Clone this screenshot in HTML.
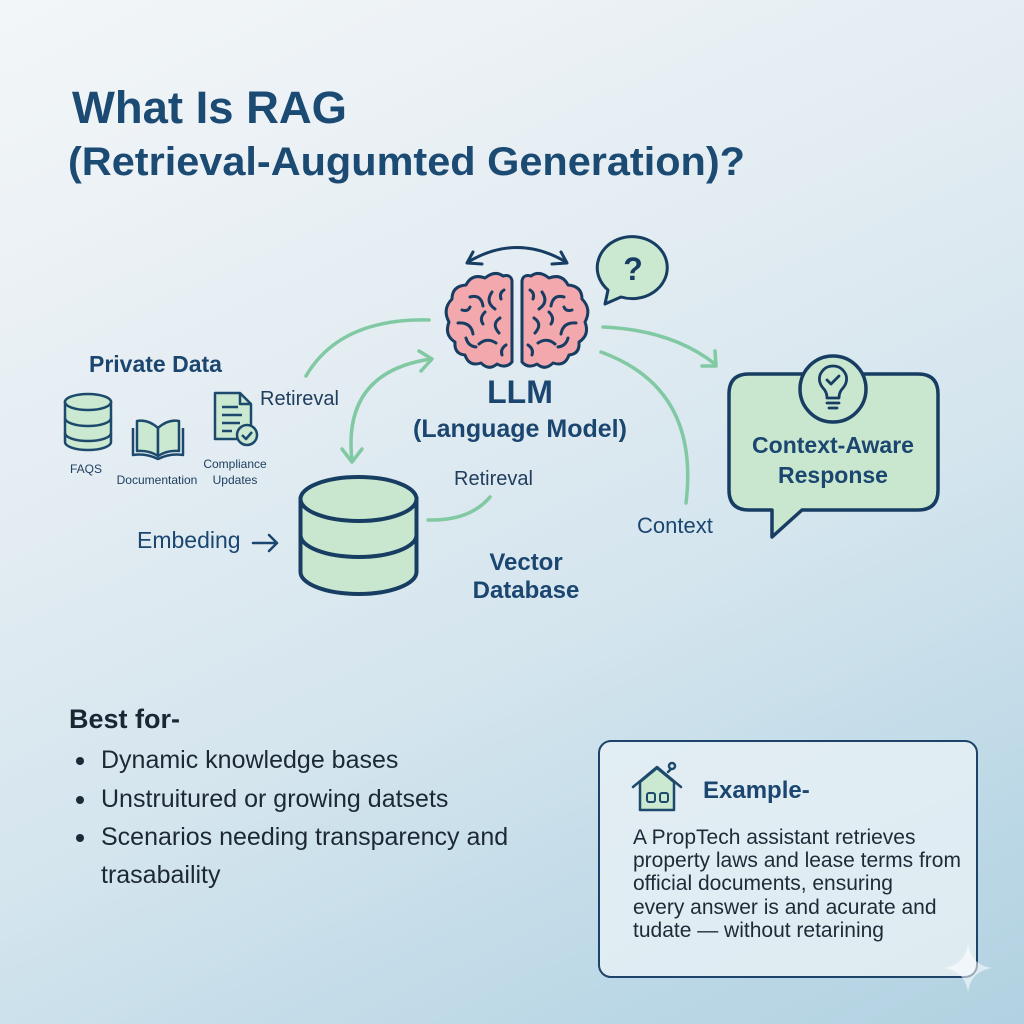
<!DOCTYPE html>
<html><head><meta charset="utf-8"><style>
html,body{margin:0;padding:0;}
body{width:1024px;height:1024px;overflow:hidden;background:linear-gradient(155deg,#f3f6f8 0%,#e6eef3 30%,#d4e5ee 60%,#bcd8e6 85%,#b2d2e1 100%);}
svg{position:absolute;left:0;top:0;}
text{font-family:"Liberation Sans",Arial,sans-serif;}
</style></head><body>
<svg width="1024" height="1024" viewBox="0 0 1024 1024" xmlns="http://www.w3.org/2000/svg">
<!-- Title -->
<text x="72" y="123" font-size="45" font-weight="bold" fill="#1b4a72" textLength="275" lengthAdjust="spacingAndGlyphs">What Is RAG</text>
<text x="68" y="175" font-size="40" font-weight="bold" fill="#1b4a72" textLength="677" lengthAdjust="spacingAndGlyphs">(Retrieval-Augumted Generation)?</text>

<!-- Private data -->
<text x="89" y="372" font-size="23" font-weight="bold" fill="#1b4670">Private Data</text>
<!-- DB stack icon -->
<g stroke="#1d4a6c" stroke-width="2.5" fill="#cbe8d1">
<path d="M65,402 V442 A23,8 0 0 0 111,442 V402 Z"/>
<ellipse cx="88" cy="402" rx="23" ry="8"/>
<path d="M65,418 A23,8 0 0 0 111,418" fill="none"/>
<path d="M65,433 A23,8 0 0 0 111,433" fill="none"/>
</g>
<!-- Book icon -->
<g stroke="#1d4a6c" stroke-width="2.5" fill="#cbe8d1" stroke-linejoin="round">
<path d="M133,428 V455 Q146,453 158,459 Q170,453 183,455 V428" fill="none"/>
<path d="M158,428 Q148,419 137,421 V451 Q149,450 158,456 Z"/>
<path d="M158,428 Q168,419 179,421 V451 Q167,450 158,456 Z"/>
</g>
<!-- Doc icon -->
<g stroke="#1d4a6c" stroke-width="2.5" stroke-linejoin="round">
<path d="M215,393 H240 L251,404 V439 H215 Z" fill="#cbe8d1"/>
<path d="M240,393 V404 H251" fill="none"/>
<path d="M222,407 H238 M222,415 H242 M222,423 H240 M222,431 H232" fill="none"/>
<circle cx="247" cy="435" r="10" fill="#cbe8d1"/>
<path d="M242,435 l4,4 l6,-7" fill="none"/>
</g>
<g font-size="12" fill="#1f3f60">
<text x="86" y="473" text-anchor="middle">FAQS</text>
<text x="157" y="484" text-anchor="middle">Documentation</text>
<text x="235" y="468" text-anchor="middle">Compliance</text>
<text x="235" y="484" text-anchor="middle">Updates</text>
</g>
<text x="260" y="405" font-size="20" fill="#1f3d5c">Retireval</text>

<!-- Mint arrows -->
<g stroke="#80c9a3" stroke-width="3.5" fill="none" stroke-linecap="round" stroke-linejoin="round">
<path d="M306,376 Q340,318 429,320"/>
<path d="M352,461 Q342,372 431,359"/>
<path d="M342,449 L352,462 L362,449"/>
<path d="M419,351 L432,359 L421,371"/>
<path d="M603,327 Q672,330 715,364"/>
<path d="M715,351 L716,366 L702,366"/>
<path d="M601,352 Q700,388 686,503"/>
<path d="M428,520 Q470,521 490,497"/>
</g>

<!-- Double arrow over brain -->
<g stroke="#173d62" stroke-width="3" fill="none" stroke-linecap="round" stroke-linejoin="round">
<path d="M468,262 Q517,233 566,262"/>
<path d="M473,252 L467,263 L482,264"/>
<path d="M561,252 L567,263 L552,264"/>
</g>

<!-- Brain -->
<g stroke="#173d62" stroke-width="3" stroke-linejoin="round" stroke-linecap="round">
<g id="lh">
<path fill="#f3a8ae" d="M512,281 L512,362 Q506,369 497,364 Q489,371 481,363 Q469,367 465,355 Q454,354 455,342 Q444,335 449,322 Q442,309 452,299 Q452,286 466,285 Q472,273 485,278 Q495,270 503,276 Q511,274 512,281 Z"/>
<path fill="none" d="M470,297 q11,-3 13,9 M458,323 q13,-1 15,11 M492,292 q-7,10 3,17 M479,344 q8,-7 17,-1 M500,318 q-9,6 -1,15 M466,338 q2,8 10,9 M485,312 q-6,6 -2,12 M506,345 q-6,4 -4,10 M504,290 q-5,3 -3,9 M462,310 q6,2 8,-3"/>
</g>
<use href="#lh" transform="translate(1034,0) scale(-1,1)"/>
</g>

<!-- Question bubble -->
<path d="M608,290 A35,31 0 1 1 621,297 L605,304 Z" fill="#cbe8d1" stroke="#173d62" stroke-width="3" stroke-linejoin="round"/>
<text x="633" y="280" font-size="32" font-weight="bold" fill="#173d62" text-anchor="middle">?</text>

<!-- LLM label -->
<text x="520" y="403" font-size="32" font-weight="bold" fill="#1b4670" text-anchor="middle">LLM</text>
<text x="520" y="437" font-size="25" font-weight="bold" fill="#1b4670" text-anchor="middle">(Language Model)</text>

<!-- Vector DB cylinder -->
<g stroke="#173d62" stroke-width="4" fill="#c9e7cf">
<path d="M300.5,499 L300.5,572 A58,22 0 0 0 416.5,572 L416.5,499 Z"/>
<ellipse cx="358.5" cy="499" rx="58" ry="22"/>
<path d="M300.5,535 A58,22 0 0 0 416.5,535" fill="none"/>
</g>
<text x="454" y="485" font-size="20" fill="#1f3d5c">Retireval</text>
<text x="137" y="548" font-size="23" fill="#1b4670">Embeding</text>
<g stroke="#1b4670" stroke-width="2.5" fill="none" stroke-linecap="round" stroke-linejoin="round">
<path d="M253,543 H277 M269,535 L277,543 L269,551"/>
</g>
<text x="526" y="570" font-size="24" font-weight="bold" fill="#1b4670" text-anchor="middle">Vector</text>
<text x="526" y="598" font-size="24" font-weight="bold" fill="#1b4670" text-anchor="middle">Database</text>
<text x="637" y="533" font-size="22" fill="#1b4670">Context</text>

<!-- Response bubble -->
<path d="M749,374 H918 Q938,374 938,394 V490 Q938,510 918,510 H802 L772,537 V510 H749 Q729,510 729,490 V394 Q729,374 749,374 Z" fill="#c9e6cf" stroke="#173d62" stroke-width="3.5" stroke-linejoin="round"/>
<circle cx="833" cy="389" r="33" fill="#c9e6cf" stroke="#173d62" stroke-width="3.5"/>
<g stroke="#173d62" stroke-width="2.8" fill="none" stroke-linecap="round" stroke-linejoin="round">
<path d="M827,398 Q827,392 823,388 Q818,382 820,375 Q824,366 833,366 Q842,366 846,375 Q848,382 843,388 Q839,392 839,398 Z"/>
<path d="M827,403 H839 M829,408 H837"/>
<path d="M827,380 l4,4 l8,-8"/>
</g>
<text x="833" y="453" font-size="23" font-weight="bold" fill="#1b4670" text-anchor="middle">Context-Aware</text>
<text x="833" y="483" font-size="23" font-weight="bold" fill="#1b4670" text-anchor="middle">Response</text>

<!-- Best for -->
<text x="69" y="728" font-size="27" font-weight="bold" fill="#1b2634">Best for-</text>
<g fill="#1b2a3a">
<circle cx="80" cy="761" r="4"/>
<circle cx="80" cy="800" r="4"/>
<circle cx="80" cy="838" r="4"/>
</g>
<g font-size="25" fill="#1c2834">
<text x="101" y="768">Dynamic knowledge bases</text>
<text x="101" y="807">Unstruitured or growing datsets</text>
<text x="101" y="845">Scenarios needing transparency and</text>
<text x="101" y="883">trasabaility</text>
</g>

<!-- Example box -->
<rect x="599" y="741" width="378" height="236" rx="12" fill="#e5f0f5" fill-opacity="0.85" stroke="#1d4468" stroke-width="2"/>
<g stroke="#1d4a6c" stroke-width="2.5" stroke-linejoin="round" stroke-linecap="round">
<path d="M640,782 L657,768 L674,782 V810 H640 Z" fill="#cbe8d1"/>
<path d="M633,787 L657,767 L681,787" fill="none"/>
<path d="M668,772 L671,769" fill="none"/>
<circle cx="672" cy="766" r="3" fill="#e5f0f5"/>
<rect x="647" y="793" width="8" height="9" rx="2" fill="none" stroke-width="2"/>
<rect x="660" y="793" width="8" height="9" rx="2" fill="none" stroke-width="2"/>
</g>
<text x="703" y="798" font-size="24" font-weight="bold" fill="#1b4670">Example-</text>
<g font-size="21" fill="#1e2a36">
<text x="633" y="844">A PropTech assistant retrieves</text>
<text x="633" y="867">property laws and lease terms from</text>
<text x="633" y="890">official documents, ensuring</text>
<text x="633" y="914">every answer is and acurate and</text>
<text x="633" y="937">tudate — without retarining</text>
</g>

<!-- Sparkle -->
<path d="M968,944 Q971,965 992,968 Q971,971 968,992 Q965,971 944,968 Q965,965 968,944 Z" fill="#ffffff" fill-opacity="0.55"/>
</svg>
</body></html>
